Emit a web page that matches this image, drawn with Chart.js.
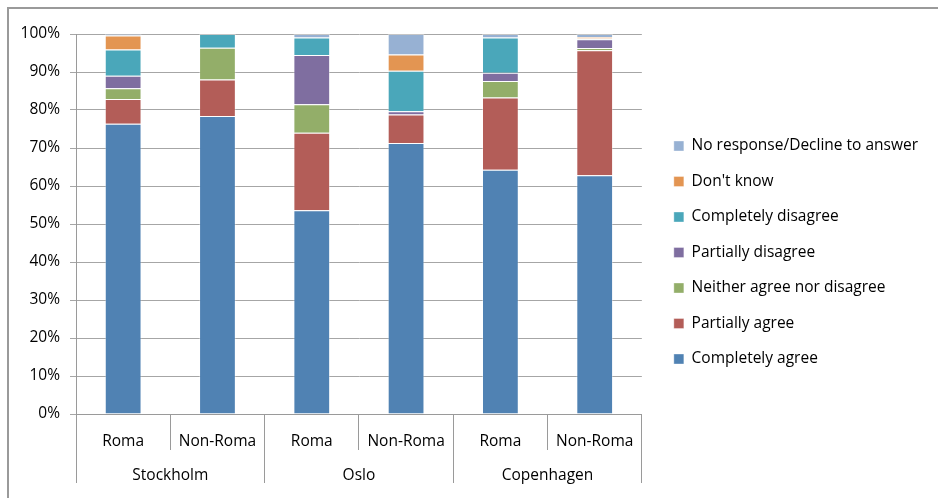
<!DOCTYPE html>
<html lang="en">
<head>
    <title>Attitudes by city and group</title>
    <meta charset="utf-8">
    <script src="https://cdn.jsdelivr.net/npm/chart.js@4.4.1/dist/chart.umd.min.js"></script>
    <style>
        body { margin: 0; background: #fff; }
        #wrap { position: relative; width: 938px; height: 498px; overflow: hidden; }
        #frame { position: absolute; left: 7px; top: 7px; width: 1000px; height: 1000px;
                 border: 2px solid #9a9a9a; pointer-events: none; }
    </style>
</head>
<body>

<div id="wrap">
    <canvas id="bar-chart" width="938" height="498"></canvas>
    <div id="frame"></div>
</div>

<script>
var categories = ['Roma', 'Non-Roma', 'Roma', 'Non-Roma', 'Roma', 'Non-Roma'];
var cities = ['Stockholm', 'Oslo', 'Copenhagen'];
var yTicks = [0, 10, 20, 30, 40, 50, 60, 70, 80, 90, 100];

var completelyAgree    = [76.4, 78.4, 53.6, 71.3, 64.3, 62.8];
var partiallyAgree     = [6.5, 9.6, 20.4, 7.5, 19.0, 32.9];
var neitherAgree       = [2.8, 8.4, 7.5, 0, 4.3, 0.6];
var partiallyDisagree  = [3.3, 0, 13.0, 0.9, 2.2, 2.3];
var completelyDisagree = [6.9, 3.6, 4.6, 10.6, 9.3, 0.2];
var dontKnow           = [3.7, 0, 0, 4.3, 0, 0.4];
var noResponse         = [0.4, 0, 0.9, 5.4, 0.9, 0.8];

Chart.defaults.font.family = 'Open Sans';
Chart.defaults.font.size = 15.5;
Chart.defaults.color = '#000';

function series(label, data, color) {
  return { label: label, data: data, backgroundColor: color,
           borderWidth: 1, borderColor: 'rgba(255,255,255,0.35)',
           barPercentage: 0.39, categoryPercentage: 1 };
}

// invisible spacer boxes, used only to place the plot area
function spacer(pos, size) {
  return {
    type: 'linear', position: pos, display: true,
    grid: { display: false }, ticks: { display: false }, border: { display: false },
    afterFit: function (s) { if (pos === 'top') s.height = size; else s.width = size; }
  };
}

new Chart(document.getElementById('bar-chart'), {
  type: 'bar',
  data: {
    labels: categories,
    datasets: [
      series('Completely agree', completelyAgree, '#5082b3'),
      series('Partially agree', partiallyAgree, '#b35d58'),
      series('Neither agree nor disagree', neitherAgree, '#93ae69'),
      series('Partially disagree', partiallyDisagree, '#7f6ea0'),
      series('Completely disagree', completelyDisagree, '#4aa7ba'),
      series("Don't know", dontKnow, '#e39552'),
      series('No response/Decline to answer', noResponse, '#97b1d3')
    ]
  },
  options: {
    responsive: false,
    animation: false,
    layout: { padding: { left: 0, top: 15, right: 10, bottom: 8 } },
    plugins: {
      title: { display: false },
      tooltip: { enabled: false },
      legend: {
        position: 'right',
        reverse: true,
        maxWidth: 400,
        labels: { boxWidth: 10, boxHeight: 10, padding: 20, useBorderRadius: false }
      }
    },
    scales: {
      x: {
        stacked: true,
        grid: { display: true, drawOnChartArea: false, drawTicks: true, offset: true,
                tickLength: 36, color: '#9a9a9a' },
        border: { display: true, color: '#9a9a9a' },
        ticks: { padding: -18, autoSkip: false, maxRotation: 0 },
        afterFit: function (s) { s.height = 36; }
      },
      x2: {
        type: 'category',
        labels: cities,
        position: 'bottom',
        grid: { display: true, drawOnChartArea: false, drawTicks: true, offset: true,
                tickLength: 33, color: '#9a9a9a' },
        border: { display: false },
        ticks: { padding: -17, autoSkip: false, maxRotation: 0 },
        afterFit: function (s) { s.height = 40; }
      },
      y: {
        stacked: true,
        min: 0,
        max: 100,
        afterBuildTicks: function (s) { s.ticks = yTicks.map(function (v) { return { value: v }; }); },
        ticks: { padding: 10, callback: function (v) { return v + '%'; } },
        grid: { color: '#a6a6a6', tickLength: 6 },
        border: { display: true, color: '#9a9a9a' },
        afterFit: function (s) { s.width = 76; }
      },
      gapTop: spacer('top', 19),
      gapRight: spacer('right', 12)
    }
  }
});
</script>
</body>
</html>
